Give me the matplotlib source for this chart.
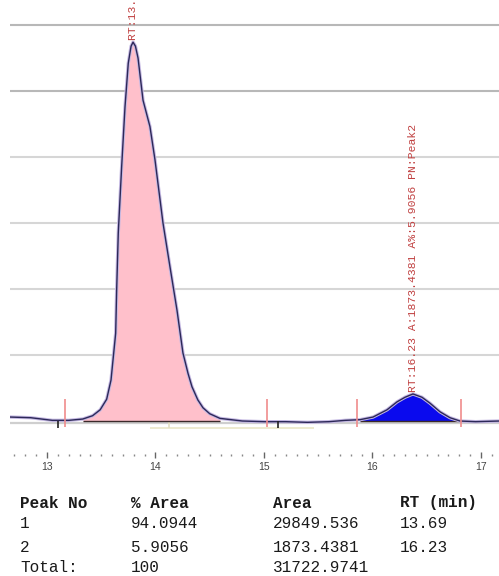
import matplotlib
matplotlib.use("Agg")
import matplotlib.pyplot as plt
import numpy as np

# ---------------- data ----------------
time_min = [12.66, 12.85, 13.05, 13.20, 13.33, 13.42, 13.49, 13.55, 13.59, 13.633, 13.642,
            13.657, 13.688, 13.719, 13.749, 13.775, 13.793, 13.815, 13.839, 13.885, 13.949,
            13.995, 14.069, 14.134, 14.198, 14.253, 14.300, 14.336, 14.390, 14.438, 14.50,
            14.594, 14.80, 15.00, 15.20, 15.40, 15.60, 15.75, 15.885, 16.005, 16.134,
            16.226, 16.300, 16.373, 16.456, 16.530, 16.622, 16.714, 16.806, 16.95, 17.17]
signal = [0.06, 0.05, 0.01, 0.01, 0.03, 0.08, 0.17, 0.33, 0.62, 1.33, 1.98,
          2.85, 3.85, 4.76, 5.42, 5.68, 5.74, 5.68, 5.50, 4.86, 4.46,
          3.96, 3.00, 2.33, 1.68, 1.03, 0.72, 0.52, 0.32, 0.20, 0.11,
          0.04, 0.00, -0.01, -0.01, -0.02, -0.01, 0.01, 0.02, 0.06, 0.17,
          0.29, 0.36, 0.41, 0.36, 0.27, 0.14, 0.05, 0.00, -0.01, 0.00]

peak_starts = [13.33, 15.885]
peak_ends = [14.594, 16.806]
peak_apex_t = [13.793, 16.373]
peak_apex_y = [5.74, 0.41]
peak_labels = ["RT:13.69 A:29849.536 A%:94.0944 PN:Peak1",
               "RT:16.23 A:1873.4381 A%:5.9056 PN:Peak2"]
peak_colors = ["#ffc0cb", "#0a0aee"]

pink_markers = [13.17, 15.03, 15.86, 16.82]
black_markers = [13.10, 15.13]

x_major = [13, 14, 15, 16, 17]
grid_levels = [1, 2, 3, 4, 5, 6]

table_header = ["Peak No", "% Area", "Area", "RT (min)"]
table_rows = [["1", "94.0944", "29849.536", "13.69"],
              ["2", "5.9056", "1873.4381", "16.23"],
              ["Total:", "100", "31722.9741", ""]]

# ---------------- figure ----------------
W, H = 499, 576
fig = plt.figure(figsize=(W / 100, H / 100), dpi=100)
ax = fig.add_axes([10 / W, (H - 455) / H, 1 - 10 / W, 455 / H])
ax.set_xlim(12.659, 17.166)
ax.set_ylim(-0.515, 6.379)

for s in ax.spines.values():
    s.set_visible(False)
ax.set_yticks([])

# gridlines
grid_cols = ["#d6d6d6", "#d6d6d6", "#d6d6d6", "#d6d6d6", "#b8b8b8", "#b8b8b8"]
for g, c in zip(grid_levels, grid_cols):
    ax.axhline(g, color=c, lw=1.5, zorder=0)

# baseline
ax.axhline(-0.025, color="#cfcfcf", lw=1.6, zorder=1)

t = np.array(time_min)
y = np.array(signal)

for s0, e0, col in zip(peak_starts, peak_ends, peak_colors):
    m = (t >= s0) & (t <= e0)
    ax.fill_between(t, y, 0, where=m, color=col, lw=0, zorder=2)
    ax.hlines(0, s0, e0, color="#3a2a2a", lw=1.0, zorder=3)

# trace
ax.plot(t, y, color="#c4b8e2", lw=2.4, zorder=4, solid_capstyle="round")
ax.plot(t, y, color="#2c2858", lw=1.0, zorder=5)

# markers
ax.vlines(pink_markers, -0.09, 0.33, color="#f08c8c", lw=1.2, zorder=6)
ax.vlines(black_markers, -0.10, 0.0, color="#222222", lw=1.2, zorder=6)
ax.hlines(-0.11, 13.95, 15.46, color="#ece8cc", lw=1.3, zorder=1)
ax.vlines([14.12], -0.11, 0.0, color="#e4e0c4", lw=1.2, zorder=1)

# peak labels
for xt, yt, lab in zip(peak_apex_t, peak_apex_y, peak_labels):
    ax.text(xt, yt + 0.03, lab, rotation=90, ha="center", va="bottom",
            color="#c04040", fontsize=8.2, family="Liberation Mono",
            clip_on=False, zorder=7)

# x axis
ax.set_xticks(x_major)
ax.set_xticks(np.arange(12.7, 17.15, 0.1), minor=True)
ax.tick_params(axis="x", which="major", direction="inout", length=5, width=1,
               color="#666666", labelsize=7.5, labelcolor="#444444", pad=2.5)
ax.tick_params(axis="x", which="minor", direction="inout", length=1.5, width=1.0,
               color="#888888")
for lab in ax.get_xticklabels():
    lab.set_family("Liberation Sans")

# table
col_x = [20, 131, 273, 400]
row_y = [503, 524, 547, 568]
for cx, txt in zip(col_x, table_header):
    fig.text(cx / W, 1 - row_y[0] / H, txt, ha="left", va="center",
             family="Liberation Mono", fontsize=11.5, fontweight="bold", color="#1a1a1a")
for ry, row in zip(row_y[1:], table_rows):
    for cx, txt in zip(col_x, row):
        fig.text(cx / W, 1 - ry / H, txt, ha="left", va="center",
                 family="Liberation Mono", fontsize=11.5, color="#1a1a1a")

fig.savefig("out.png", dpi=100)
